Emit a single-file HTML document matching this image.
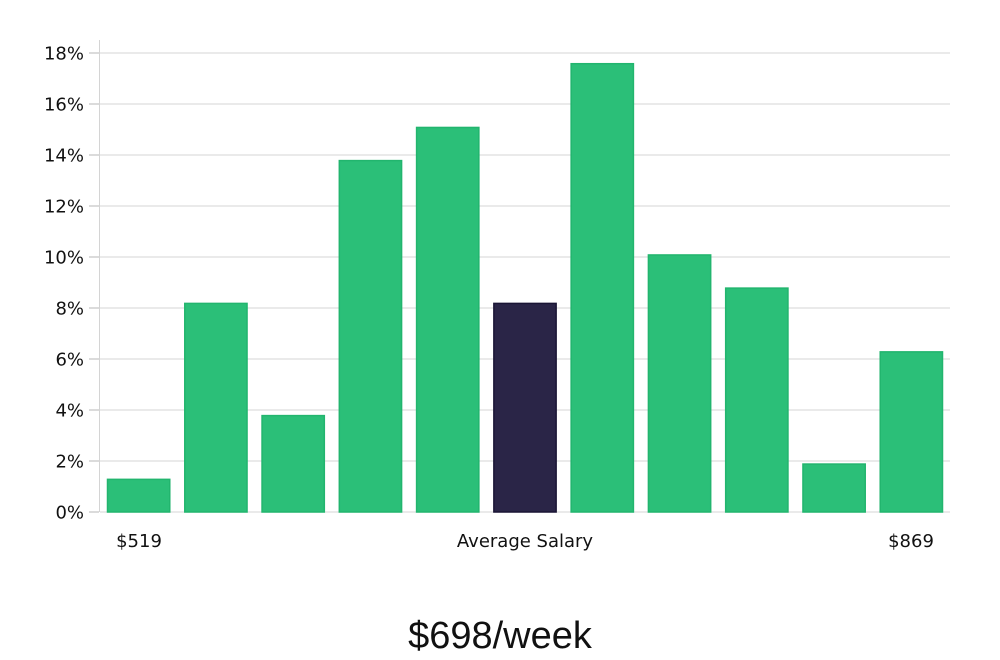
<!DOCTYPE html>
<html><head><meta charset="utf-8"><style>
html,body{margin:0;padding:0;background:#fff;width:1000px;height:660px;overflow:hidden}
svg text{font-family:"DejaVu Sans","Liberation Sans",sans-serif}
</style></head><body>
<svg id="chart" width="1000" height="660" xmlns="http://www.w3.org/2000/svg">
<g id="grid"></g>
<g id="yaxis"></g>
<g id="bars"></g>
<text x="139" y="547" font-size="18" text-anchor="middle" fill="#111">$519</text>
<text x="525" y="547" font-size="18" text-anchor="middle" fill="#111">Average Salary</text>
<text x="911" y="547" font-size="18" text-anchor="middle" fill="#111">$869</text>
<text x="500" y="648" font-size="38" text-anchor="middle" fill="#111" style="font-family:'Liberation Sans',sans-serif;font-weight:300">$698/week</text>
</svg>
<script>
const categories = ["b1","b2","b3","b4","b5","b6","b7","b8","b9","b10","b11"];
const values = [1.3, 8.2, 3.8, 13.8, 15.1, 8.2, 17.6, 10.1, 8.8, 1.9, 6.3];
const highlightIndex = 5;
const yTicks = [0, 2, 4, 6, 8, 10, 12, 14, 16, 18];
const yTickLabels = ["0%","2%","4%","6%","8%","10%","12%","14%","16%","18%"];

const NS = "http://www.w3.org/2000/svg";
const plotLeft = 100, plotRight = 950, y0 = 512, yTop = 53, yMax = 18;
const bandStart = 100, bandW = (950 - 100) / categories.length;
function yScale(v){ return y0 - (v / yMax) * (y0 - yTop); }
function xScale(i){ return bandStart + i * bandW + 7; }
const barW = bandW - 14;

const grid = document.getElementById('grid');
const yaxis = document.getElementById('yaxis');
const bars = document.getElementById('bars');

const axisLine = document.createElementNS(NS,'line');


axisLine.setAttribute('x1',99.5); axisLine.setAttribute('x2',99.5);
axisLine.setAttribute('y1',40); axisLine.setAttribute('y2',y0);
axisLine.setAttribute('stroke','#d4d4d4'); axisLine.setAttribute('stroke-width',1);
yaxis.appendChild(axisLine);

yTicks.forEach((t, i) => {
  const y = yScale(t);
  const g = document.createElementNS(NS,'line');
  
  
  g.setAttribute('x1',plotLeft); g.setAttribute('x2',plotRight);
  g.setAttribute('y1',y); g.setAttribute('y2',y);
  g.setAttribute('stroke','#dedede'); g.setAttribute('stroke-width',1.2);
  grid.appendChild(g);
  const tk = document.createElementNS(NS,'line');
  
  
  tk.setAttribute('x1',89); tk.setAttribute('x2',99);
  tk.setAttribute('y1',y); tk.setAttribute('y2',y);
  tk.setAttribute('stroke','#cfcfcf'); tk.setAttribute('stroke-width',1.5);
  yaxis.appendChild(tk);
  const tx = document.createElementNS(NS,'text');
  
  
  tx.setAttribute('x',84); tx.setAttribute('y',y + 6.5);
  tx.setAttribute('text-anchor','end'); tx.setAttribute('font-size',18);
  tx.setAttribute('fill','#111');
  tx.textContent = yTickLabels[i];
  yaxis.appendChild(tx);
});

values.forEach((v, i) => {
  const r = document.createElementNS(NS,'rect');
  
  
  const y = yScale(v);
  r.setAttribute('x', xScale(i) + 0.5);
  r.setAttribute('y', y + 0.5);
  r.setAttribute('width', barW - 1);
  r.setAttribute('height', Math.max(0, y0 - y - 0.5));
  r.setAttribute('fill', i === highlightIndex ? '#2a2547' : '#2bbf78');
  r.setAttribute('stroke', i === highlightIndex ? '#1a1535' : '#22b56e');
  r.setAttribute('stroke-width', 1.5);
  bars.appendChild(r);
});
</script>
</body></html>
